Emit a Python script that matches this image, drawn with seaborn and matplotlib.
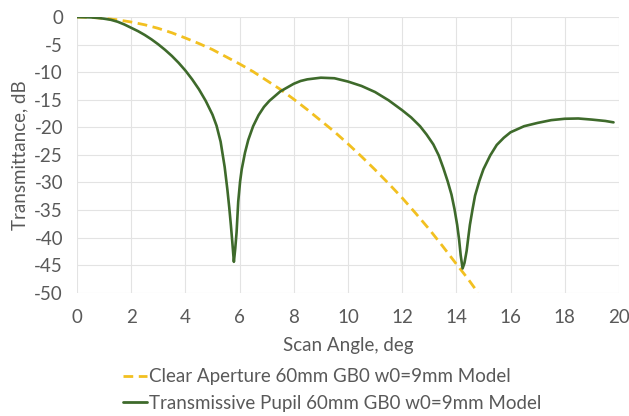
import numpy as np
import pandas as pd
import seaborn as sns
import matplotlib.pyplot as plt
from matplotlib.lines import Line2D

# ---- data ----
clear_x = [0, 0.5, 1, 1.5, 2, 2.5, 3, 3.5, 4, 4.5, 5, 5.5, 6, 6.5, 7, 7.5, 8, 8.5,
           9, 9.5, 10, 10.5, 11, 11.5, 12, 12.5, 13, 13.5, 14, 14.4, 14.8]
clear_y = [0, -0.06, -0.23, -0.5, -0.9, -1.4, -2.05, -2.85, -3.8, -4.8, -5.9, -7.2,
           -8.5, -9.9, -11.5, -13.1, -14.9, -16.8, -18.8, -20.8, -23.0, -25.3, -27.7,
           -30.2, -32.8, -35.6, -38.5, -41.6, -44.8, -47.3, -50]

pupil_x = [0, 0.5, 0.75, 1, 1.25, 1.5, 1.75, 2, 2.25, 2.5, 2.75, 3, 3.25, 3.5, 3.75,
           4, 4.25, 4.5, 4.75, 5.0, 5.15, 5.3, 5.45, 5.55, 5.62, 5.68, 5.73, 5.79,
           5.84, 5.89, 5.95, 6.02, 6.08, 6.2, 6.32, 6.5, 6.7, 6.9, 7.1, 7.5, 8, 8.25,
           8.5, 9, 9.5, 10, 10.5, 11, 11.3, 11.5, 12, 12.33, 12.66, 12.9, 13.15, 13.35,
           13.52, 13.68, 13.82, 13.93, 14.03, 14.1, 14.16, 14.23, 14.3, 14.38, 14.44,
           14.5, 14.6, 14.69, 14.85, 15.0, 15.25, 15.49, 15.75, 16.0, 16.5, 17, 17.5,
           18, 18.5, 19, 19.5, 19.8]
pupil_y = [0, -0.06, -0.15, -0.3, -0.5, -0.85, -1.35, -1.95, -2.55, -3.25, -4.05,
           -4.95, -5.95, -7.05, -8.3, -9.7, -11.3, -13.1, -15.2, -17.7, -19.7, -22.6,
           -27.2, -31.3, -34.6, -37.8, -40.7, -44.4, -42, -39.0, -33.5, -29.8, -27.6,
           -24.6, -22.3, -19.8, -17.8, -16.3, -15.2, -13.5, -12.1, -11.6, -11.3, -11.0,
           -11.1, -11.7, -12.5, -13.6, -14.5, -15.1, -16.9, -18.2, -19.8, -21.3, -23.1,
           -25.1, -27.4, -29.8, -32.2, -34.8, -37.7, -40.3, -43.2, -45.6, -44.6, -42.4,
           -40, -37.7, -34.8, -32.4, -29.7, -27.6, -25.1, -23.2, -21.9, -20.9, -19.8,
           -19.2, -18.7, -18.45, -18.4, -18.6, -18.85, -19.1]

x_ticks = list(range(0, 21, 2))
y_ticks = list(range(-50, 1, 5))

label_clear = "Clear Aperture 60mm GB0 w0=9mm Model"
label_pupil = "Transmissive Pupil 60mm GB0 w0=9mm Model"

sns.set_style("white")
plt.rcParams['font.family'] = ['Lato', 'DejaVu Sans']

FS = 13.5
TXT = "#595959"
YEL = "#f2c020"
GRN = "#3e6a2b"

fig = plt.figure(figsize=(6.29, 4.16), dpi=100)
ax = fig.add_axes([0.1224, 0.2964, 0.8616, 0.6626])

df_c = pd.DataFrame({"x": clear_x, "y": clear_y})
df_p = pd.DataFrame({"x": pupil_x, "y": pupil_y})

sns.lineplot(data=df_c, x="x", y="y", ax=ax, color=YEL, lw=2.0,
             linestyle=(0, (3.5, 2)), sort=False, zorder=2)
sns.lineplot(data=df_p, x="x", y="y", ax=ax, color=GRN, lw=1.9,
             sort=False, zorder=3)

ax.set_xlim(0, 20)
ax.set_ylim(-50, 0)
ax.set_xticks(x_ticks)
ax.set_yticks(y_ticks)
ax.set_xticklabels([str(t) for t in x_ticks])
ax.set_yticklabels([str(t) for t in y_ticks])
ax.grid(True, color="#e3e3e3", lw=0.8)
for s in ax.spines.values():
    s.set_visible(False)
ax.tick_params(axis='x', length=0, labelsize=FS, colors=TXT, pad=12)
ax.tick_params(axis='y', length=0, labelsize=FS, colors=TXT, pad=10)

ax.set_xlabel("Scan Angle, deg", fontsize=FS, color=TXT, labelpad=8)
ax.set_ylabel("Transmittance, dB", fontsize=FS, color=TXT, labelpad=4)

handles = [Line2D([0], [0], color=YEL, lw=2, linestyle=(0, (3.5, 2))),
           Line2D([0], [0], color=GRN, lw=2)]
leg = fig.legend(handles, [label_clear, label_pupil], loc="center",
                 bbox_to_anchor=(0.528, 0.0625), frameon=False, fontsize=FS,
                 handlelength=1.3, handletextpad=0.1, labelspacing=0.5,
                 borderpad=0, borderaxespad=0)
for t in leg.get_texts():
    t.set_color(TXT)

fig.savefig("out.png", dpi=100)
